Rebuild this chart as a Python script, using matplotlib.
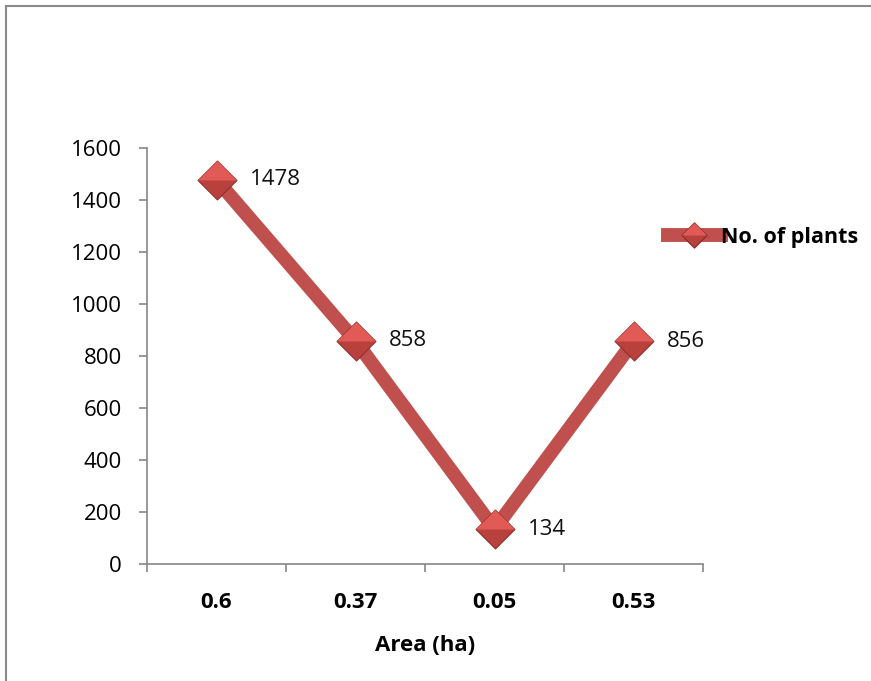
import matplotlib.pyplot as plt
from matplotlib.lines import Line2D
from matplotlib.path import Path

# data
areas = ["0.6", "0.37", "0.05", "0.53"]
plants = [1478, 858, 134, 856]
series_name = "No. of plants"

plt.rcParams["font.family"] = ["Open Sans", "DejaVu Sans"]

line_red = "#C0504D"
grey = "#868686"

# diamond marker, plus its upper half for a two-tone bevel
diamond = Path([(-1, 0), (0, 1), (1, 0), (0, -1), (-1, 0)], closed=True)
upper = Path([(-1, 0), (0, 1), (1, 0), (-1, 0)], closed=True)

fig = plt.figure(figsize=(8.71, 6.81), dpi=100)
ax = fig.add_axes([147 / 871, 1 - 564 / 681, 556 / 871, 416 / 681])

x = list(range(len(areas)))
ax.plot(x, plants, color=line_red, lw=10, solid_capstyle="butt", zorder=2)
ax.plot(x, plants, ls="none", marker=diamond, ms=28, mfc="#B8403D",
        mec="#8E2F2C", mew=0.8, zorder=3)
ax.plot(x, plants, ls="none", marker=upper, ms=28, mfc="#E25A56",
        mec="none", zorder=4)

for xi, v in zip(x, plants):
    ax.annotate(str(v), (xi, v), xytext=(24, 0), textcoords="offset points",
                ha="left", va="center", fontsize=16, color="#111111")

ax.set_xlim(-0.5, len(areas) - 0.5)
ax.set_ylim(0, 1600)
ax.set_yticks(range(0, 1601, 200))
ax.set_xticks(x)
ax.set_xticklabels(areas, fontsize=16, fontweight="bold")
ax.set_xticks([i - 0.5 for i in range(len(areas) + 1)], minor=True)
ax.tick_params(axis="x", which="major", length=0, pad=20)
ax.tick_params(axis="x", which="minor", length=6, color=grey, width=1.2)
ax.tick_params(axis="y", length=6, color=grey, width=1.2, labelsize=16, pad=12)

for side in ("top", "right"):
    ax.spines[side].set_visible(False)
for side in ("left", "bottom"):
    ax.spines[side].set_color(grey)
    ax.spines[side].set_linewidth(1.2)

ax.set_xlabel("Area (ha)", fontsize=16, fontweight="bold", labelpad=16)

# legend to the right of the plot
handle = (
    Line2D([], [], color=line_red, lw=10),
    Line2D([], [], ls="none", marker=diamond, ms=18, mfc="#B8403D", mec="#8E2F2C"),
    Line2D([], [], ls="none", marker=upper, ms=18, mfc="#E25A56", mec="none"),
)
fig.legend([handle], [series_name], loc="center left",
           bbox_to_anchor=(657 / 871, 1 - 237 / 681), frameon=False,
           handlelength=2.45, handletextpad=0.0, borderpad=0,
           prop={"weight": "bold", "size": 15.5})

# outer frame
fig.add_artist(Line2D([6 / 871, 1.1], [1 - 6 / 681] * 2, transform=fig.transFigure,
                      color="#8A8A8A", lw=1.5))
fig.add_artist(Line2D([6 / 871] * 2, [1 - 6 / 681, -0.1], transform=fig.transFigure,
                      color="#8A8A8A", lw=1.5))

fig.savefig("out.png", dpi=100)
